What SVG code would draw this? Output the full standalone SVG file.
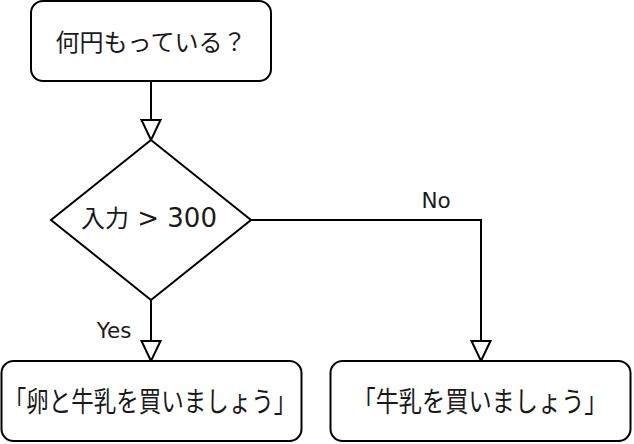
<svg xmlns="http://www.w3.org/2000/svg" width="634" height="444" viewBox="0 0 634 444">
<style>
.box{fill:#fff;stroke:#000;stroke-width:2}
.ln{fill:none;stroke:#000;stroke-width:2;marker-end:url(#arr)}
.jp{font-family:"Noto Sans CJK JP","DejaVu Sans",sans-serif;fill:#1a1a1a}
.lbl{font-family:"DejaVu Sans",sans-serif;font-size:21.5px;fill:#1a1a1a}
</style>
<defs>
<marker id="arr" markerUnits="userSpaceOnUse" viewBox="-2 -2 24 24" markerWidth="24" markerHeight="24" refX="20" refY="10" orient="auto">
<path d="M0,0.5 L20,10 L0,19.5 Z" fill="#fff" stroke="#000" stroke-width="2"/>
</marker>
</defs>
<g id="connectors">
<path class="ln" d="M151,81 L151,140"/>
<path class="ln" d="M151,300 L151,361"/>
<path class="ln" d="M251,220 L481,220 L481,361"/>
<text class="lbl" x="131.5" y="337.7" text-anchor="end">Yes</text>
<text class="lbl" x="436" y="208.3" text-anchor="middle">No</text>
</g>
<g id="start">
<rect class="box" x="31" y="1" width="240" height="80" rx="12"/>
<text class="jp" x="151" y="51" font-size="24" text-anchor="middle">何円もっている？</text>
</g>
<g id="decision">
<path class="box" d="M151,140 L251,220 L151,300 L51,220 Z"/>
<text x="149" y="226.5" text-anchor="middle" font-family="DejaVu Sans, Noto Sans CJK JP, sans-serif" font-size="26" fill="#1a1a1a"><tspan font-family="Noto Sans CJK JP, sans-serif" font-size="24">入力</tspan> &gt; 300</text>
</g>
<g id="yes-box">
<rect class="box" x="1.5" y="361" width="300" height="80" rx="12"/>
<text class="jp" transform="translate(150,412) scale(1,1.24)" x="0" y="0" font-size="22.5" text-anchor="middle">「卵と牛乳を買いましょう」</text>
</g>
<g id="no-box">
<rect class="box" x="330.5" y="361" width="300" height="80" rx="12"/>
<text class="jp" transform="translate(480,412) scale(1,1.2)" x="0" y="0" font-size="23.2" text-anchor="middle">「牛乳を買いましょう」</text>
</g>
</svg>
